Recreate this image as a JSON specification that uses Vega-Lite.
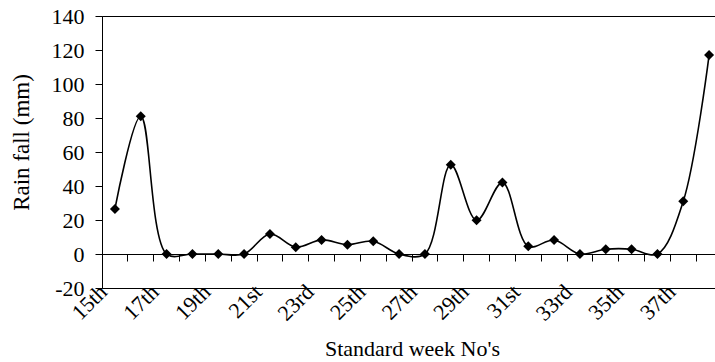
{
  "$schema": "https://vega.github.io/schema/vega-lite/v6.json",
  "width": 620,
  "height": 272,
  "autosize": {"type": "none"},
  "padding": {"left": 102, "top": 16, "right": 0, "bottom": 74},
  "config": {
    "font": "Liberation Serif",
    "view": {"stroke": "black", "strokeWidth": 1},
    "axis": {
      "labelFont": "Liberation Serif",
      "titleFont": "Liberation Serif",
      "labelFontSize": 22,
      "titleFontSize": 22,
      "labelColor": "black",
      "titleColor": "black",
      "titleFontWeight": "normal",
      "domainColor": "black",
      "tickColor": "black",
      "grid": false
    }
  },
  "data": {
    "values": [
      {"week": "15th", "rain": 26.5},
      {"week": "16th", "rain": 81},
      {"week": "17th", "rain": 0},
      {"week": "18th", "rain": 0},
      {"week": "19th", "rain": 0},
      {"week": "20th", "rain": 0},
      {"week": "21st", "rain": 11.8},
      {"week": "22nd", "rain": 4},
      {"week": "23rd", "rain": 8.3},
      {"week": "24th", "rain": 5.5},
      {"week": "25th", "rain": 7.5},
      {"week": "26th", "rain": 0},
      {"week": "27th", "rain": 0},
      {"week": "28th", "rain": 52.5},
      {"week": "29th", "rain": 19.8},
      {"week": "30th", "rain": 42},
      {"week": "31st", "rain": 4.5},
      {"week": "32nd", "rain": 8.2},
      {"week": "33rd", "rain": 0},
      {"week": "34th", "rain": 2.8},
      {"week": "35th", "rain": 2.8},
      {"week": "36th", "rain": 0},
      {"week": "37th", "rain": 31},
      {"week": "38th", "rain": 117}
    ]
  },
  "encoding": {
    "y": {
      "field": "rain",
      "type": "quantitative",
      "scale": {"domain": [-20, 140], "nice": false, "zero": false},
      "axis": {
        "values": [-20, 0, 20, 40, 60, 80, 100, 120, 140],
        "labelExpr": "'' + datum.value",
        "tickSize": 7,
        "labelPadding": 11,
        "labelFontSize": 22,
        "title": "Rain fall (mm)",
        "titleFontSize": 23,
        "titlePadding": 18,
        "titleY": 126
      }
    }
  },
  "layer": [
    {
      "mark": {"type": "line", "interpolate": "catmull-rom", "color": "black", "strokeWidth": 1.6},
      "encoding": {
        "x": {
          "field": "week",
          "type": "ordinal",
          "sort": null,
          "scale": {"type": "band", "paddingInner": 0, "paddingOuter": 0},
          "axis": {
            "orient": "bottom",
            "values": ["15th", "17th", "19th", "21st", "23rd", "25th", "27th", "29th", "31st", "33rd", "35th", "37th"],
            "bandPosition": 0,
            "labelAngle": -45,
            "labelAlign": "right",
            "labelBaseline": "middle",
            "labelPadding": 0,
            "labelOffset": -11.5,
            "labelFontSize": 22,
            "ticks": false,
            "domain": false,
            "title": "Standard week No's",
            "titleFontSize": 22,
            "titlePadding": 14
          }
        }
      }
    },
    {
      "mark": {"type": "point", "shape": "diamond", "filled": true, "color": "black", "size": 100, "opacity": 1},
      "encoding": {
        "x": {
          "field": "week",
          "type": "ordinal",
          "sort": null,
          "axis": {
            "orient": "bottom",
            "offset": -34,
            "bandPosition": 0,
            "labels": false,
            "ticks": true,
            "tickSize": 7,
            "domain": true,
            "title": null
          }
        }
      }
    }
  ],
  "resolve": {"axis": {"x": "independent"}}
}
